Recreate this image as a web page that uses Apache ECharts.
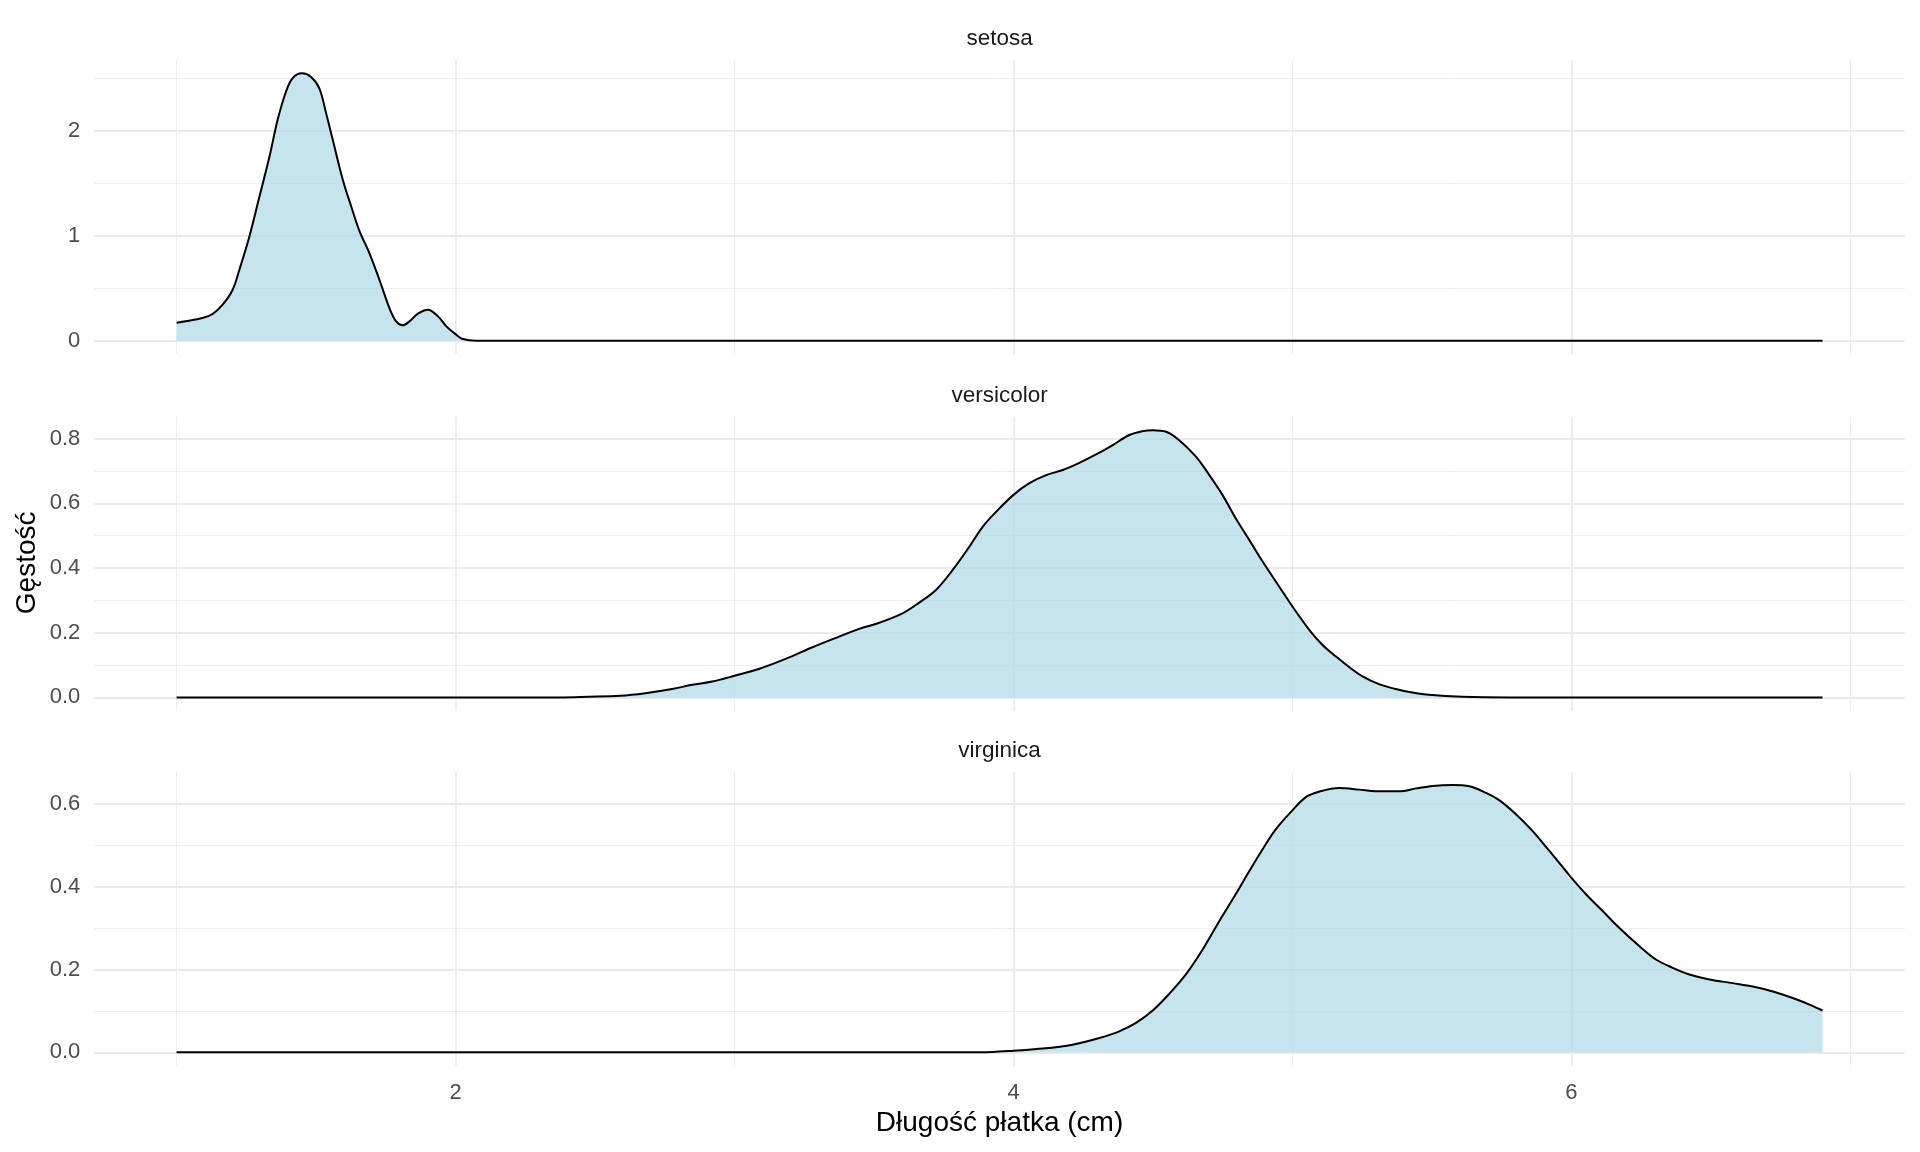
<!DOCTYPE html>
<html>
<head>
<meta charset="utf-8">
<script src="https://cdn.jsdelivr.net/npm/echarts@6/dist/echarts.min.js"></script>
<style>
html,body{margin:0;padding:0;background:#fff;}
#chart{width:1920px;height:1152px;}
</style>
</head>
<body>
<div id="chart"></div>
<script>
// ---- data ----
const species = ['setosa', 'versicolor', 'virginica'];

const setosaX = [1.00,1.033,1.093,1.129,1.165,1.201,1.225,1.261,1.297,1.333,1.362,1.392,1.416,1.450,1.482,1.512,1.536,1.560,1.596,1.626,1.656,1.691,1.727,1.763,1.787,1.811,1.835,1.865,1.901,1.937,1.967,2.002,2.026,2.074,6.9];
const setosaY = [0.171,0.184,0.215,0.254,0.342,0.485,0.675,0.992,1.372,1.753,2.10,2.37,2.50,2.545,2.51,2.40,2.165,1.91,1.53,1.277,1.04,0.834,0.58,0.31,0.184,0.146,0.184,0.257,0.295,0.231,0.136,0.057,0.016,0.0,0.0];

const versicolorX = [1.0,2.369,2.477,2.590,2.680,2.776,2.848,2.920,3.0,3.087,3.183,3.279,3.375,3.447,3.519,3.602,3.662,3.722,3.782,3.842,3.890,3.938,4.0,4.057,4.117,4.177,4.236,4.296,4.356,4.415,4.463,4.499,4.547,4.594,4.654,4.702,4.749,4.797,4.845,4.893,4.952,5.0,5.060,5.107,5.155,5.203,5.251,5.310,5.370,5.430,5.489,5.609,5.776,6.9];
const versicolorY = [0,0,0.002,0.005,0.013,0.026,0.039,0.049,0.067,0.088,0.119,0.155,0.188,0.212,0.231,0.260,0.293,0.332,0.394,0.466,0.528,0.574,0.626,0.662,0.687,0.703,0.725,0.751,0.780,0.811,0.823,0.826,0.821,0.795,0.744,0.687,0.626,0.553,0.487,0.420,0.343,0.281,0.209,0.163,0.127,0.094,0.065,0.041,0.026,0.015,0.008,0.002,0,0];

const virginicaX = [1.0,3.807,3.926,4.0,4.105,4.212,4.308,4.379,4.439,4.499,4.558,4.618,4.678,4.737,4.797,4.845,4.893,4.940,5.0,5.048,5.095,5.167,5.239,5.298,5.384,5.443,5.503,5.575,5.634,5.694,5.742,5.802,5.861,5.921,5.981,6.0,6.053,6.112,6.172,6.244,6.303,6.363,6.423,6.495,6.578,6.650,6.722,6.793,6.853,6.9];
const virginicaY = [0,0,0.001,0.004,0.009,0.0185,0.0346,0.0507,0.071,0.101,0.141,0.188,0.248,0.316,0.382,0.437,0.490,0.538,0.584,0.616,0.629,0.638,0.634,0.630,0.630,0.637,0.643,0.645,0.642,0.626,0.608,0.574,0.534,0.486,0.437,0.421,0.381,0.341,0.300,0.256,0.224,0.204,0.188,0.176,0.167,0.159,0.147,0.131,0.115,0.101];

// tick values
const xTicks = [2, 4, 6];
const xMinor = [1, 3, 5, 7];
const setosaTicks = [0, 1, 2];
const setosaMinor = [0.5, 1.5, 2.5];
const versicolorTicks = [0, 0.2, 0.4, 0.6, 0.8];
const versicolorMinor = [0.1, 0.3, 0.5, 0.7];
const virginicaTicks = [0, 0.2, 0.4, 0.6];
const virginicaMinor = [0.1, 0.3, 0.5];

const xTitle = 'Długość płatka (cm)';
const yTitle = 'Gęstość';

// ---- build ----
const xsAll = [setosaX, versicolorX, virginicaX];
const ysAll = [setosaY, versicolorY, virginicaY];
const yTicksAll = [setosaTicks, versicolorTicks, virginicaTicks];
const yMinorAll = [setosaMinor, versicolorMinor, virginicaMinor];
const yDecimals = [0, 1, 1];

const FONT = '"Liberation Sans", Arial, sans-serif';
const panelLeft = 94.3, panelRight = 15.2;
const panelTops = [60, 416.8, 771.7];
const panelH = 294;

const xMinAll = Math.min(...xsAll.map(a => Math.min(...a)));
const xMaxAll = Math.max(...xsAll.map(a => Math.max(...a)));
const xSpan = xMaxAll - xMinAll;

const grids = [], xAxes = [], yAxes = [], series = [], graphics = [];

species.forEach((sp, i) => {
  const ys = ysAll[i];
  const ymax = Math.max(...ys);
  grids.push({ left: panelLeft, right: panelRight, top: panelTops[i], height: panelH, containLabel: false });
  xAxes.push({
    type: 'value', gridIndex: i,
    min: xMinAll - 0.05 * xSpan, max: xMaxAll + 0.05 * xSpan,
    axisLine: { show: false }, axisTick: { show: false }, splitLine: { show: false },
    axisLabel: {
      show: i === 2, customValues: xTicks, margin: 16,
      color: '#4D4D4D', fontSize: 22, fontFamily: FONT
    }
  });
  yAxes.push({
    type: 'value', gridIndex: i,
    min: -0.05 * ymax, max: ymax * 1.05,
    axisLine: { show: false }, axisTick: { show: false }, splitLine: { show: false },
    axisLabel: {
      customValues: yTicksAll[i], margin: 14,
      color: '#4D4D4D', fontSize: 22, fontFamily: FONT,
      formatter: v => Number(v).toFixed(yDecimals[i])
    }
  });
  const gl = [];
  xTicks.forEach(v => gl.push({ xAxis: v, lineStyle: { width: 1.8 } }));
  xMinor.forEach(v => gl.push({ xAxis: v, lineStyle: { width: 0.9 } }));
  yTicksAll[i].forEach(v => gl.push({ yAxis: v, lineStyle: { width: 1.8 } }));
  yMinorAll[i].forEach(v => gl.push({ yAxis: v, lineStyle: { width: 0.9 } }));
  series.push({
    type: 'line', xAxisIndex: i, yAxisIndex: i, data: [], silent: true,
    markLine: {
      silent: true, symbol: ['none', 'none'], label: { show: false },
      lineStyle: { color: '#EBEBEB', type: 'solid' }, animation: false, z: 0,
      data: gl
    }
  });
  series.push({
    name: sp, type: 'line', xAxisIndex: i, yAxisIndex: i, z: 3,
    data: xsAll[i].map((x, k) => [x, ys[k]]),
    showSymbol: false, symbol: 'none', smooth: 0.35,
    lineStyle: { color: '#000000', width: 2 },
    areaStyle: { color: '#ADD8E6', opacity: 0.7 }
  });
  graphics.push({
    type: 'text', x: panelLeft + (1920 - panelLeft - panelRight) / 2, y: panelTops[i] - 21,
    style: { text: sp, font: '22.5px ' + FONT, fill: '#1A1A1A', textAlign: 'center', textVerticalAlign: 'middle' }
  });
});

graphics.push({
  type: 'text', x: panelLeft + (1920 - panelLeft - panelRight) / 2, y: 1123,
  style: { text: xTitle, font: '28px ' + FONT, fill: '#000000', textAlign: 'center', textVerticalAlign: 'middle' }
});
graphics.push({
  type: 'text', x: 27, y: (panelTops[0] + panelTops[2] + panelH) / 2, rotation: Math.PI / 2,
  style: { text: yTitle, font: '28px ' + FONT, fill: '#000000', textAlign: 'center', textVerticalAlign: 'middle' }
});

const chart = echarts.init(document.getElementById('chart'), null, { renderer: 'canvas' });
chart.setOption({
  backgroundColor: '#ffffff',
  animation: false,
  grid: grids, xAxis: xAxes, yAxis: yAxes, series: series, graphic: graphics
});
</script>
</body>
</html>
